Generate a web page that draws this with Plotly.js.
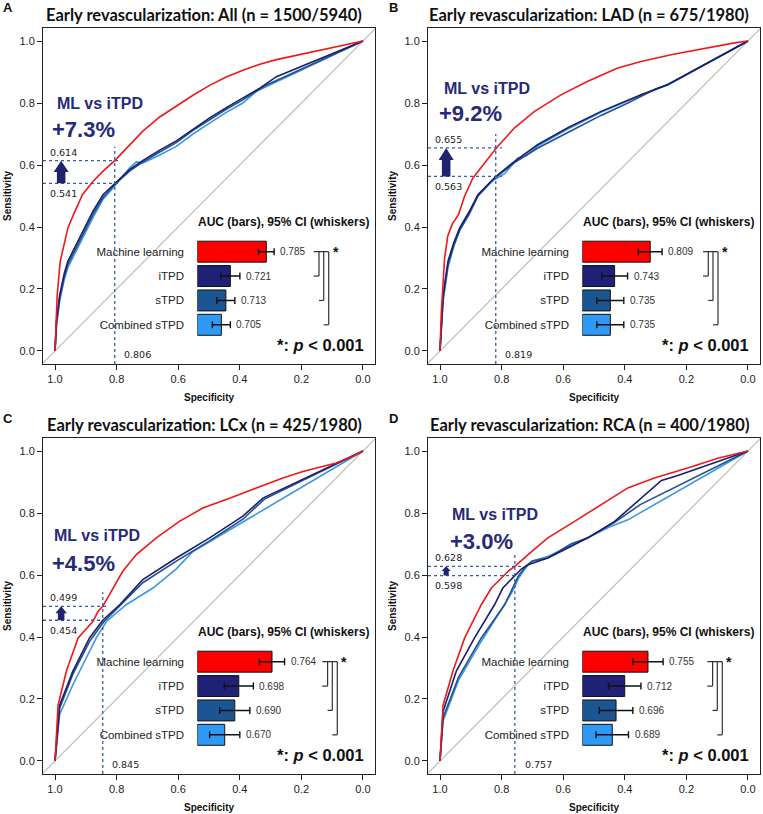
<!DOCTYPE html>
<html><head><meta charset="utf-8">
<script src="https://cdn.plot.ly/plotly-3.0.1.min.js"></script>
<style>html,body{margin:0;padding:0;background:#fff}#chart{width:763px;height:814px}</style>
</head><body><div id="chart"></div>
<script>
// ---------- DATA ----------
const models = ['Machine learning','iTPD','sTPD','Combined sTPD'];
const titles = ['Early revascularization: All (n = 1500/5940)','Early revascularization: LAD (n = 675/1980)',
                'Early revascularization: LCx (n = 425/1980)','Early revascularization: RCA (n = 400/1980)'];
const letters = ['A','B','C','D'];

// Panel A ROC (specificity, sensitivity)
const specA_ML=[1,.996,.993,.983,.97,.958,.94,.911,.877,.844,.806,.758,.714,.66,.606,.552,.498,.444,.39,.335,.281,.227,.173,.119,.065,0];
const sensA_ML=[0,.08,.18,.29,.35,.397,.44,.504,.547,.58,.614,.665,.71,.755,.79,.825,.857,.884,.906,.925,.94,.952,.963,.975,.986,1];
const specA_IT=[1,.995,.985,.97,.958,.93,.904,.877,.844,.806,.758,.714,.66,.606,.552,.498,.444,.39,.335,.281,0];
const sensA_IT=[0,.10,.18,.25,.29,.345,.397,.45,.504,.541,.585,.615,.648,.678,.716,.752,.785,.815,.848,.885,1];
const specA_ST=[1,.995,.985,.97,.958,.93,.904,.877,.844,.806,.758,.714,.66,.606,.552,.498,.444,.39,.32,0];
const sensA_ST=[0,.09,.17,.24,.28,.335,.39,.44,.495,.537,.58,.61,.642,.672,.712,.745,.78,.81,.855,1];
const specA_CO=[1,.995,.985,.97,.958,.93,.904,.877,.844,.806,.758,.736,.714,.66,.606,.552,.498,.444,.39,.346,0];
const sensA_CO=[0,.085,.16,.23,.27,.325,.38,.43,.49,.532,.59,.61,.607,.632,.66,.70,.735,.77,.80,.838,1];
// Panel B
const specB_ML=[1,.996,.99,.985,.975,.96,.94,.92,.893,.85,.817,.758,.693,.606,.52,.423,.347,.25,.142,.044,0];
const sensB_ML=[0,.12,.22,.30,.37,.41,.44,.50,.558,.612,.655,.72,.773,.827,.87,.913,.934,.956,.977,.994,1];
const specB_IT=[1,.99,.974,.955,.936,.905,.877,.828,.819,.758,.682,.585,.477,.347,.26,0];
const sensB_IT=[0,.18,.29,.35,.397,.45,.504,.555,.563,.612,.666,.72,.773,.827,.86,1];
const specB_ST=[1,.99,.974,.955,.936,.905,.877,.828,.758,.682,.585,.477,.39,.30,.26,0];
const sensB_ST=[0,.17,.28,.34,.39,.445,.50,.553,.608,.655,.705,.76,.80,.845,.86,1];
const specB_CO=[1,.99,.974,.955,.936,.905,.877,.828,.79,.747,.72,.682,.585,.477,.347,.26,0];
const sensB_CO=[0,.16,.27,.34,.39,.44,.50,.55,.572,.623,.63,.662,.716,.77,.826,.858,1];
// Panel C
const specC_ML=[1,.99,.963,.925,.877,.86,.845,.812,.78,.736,.671,.596,.52,.433,.346,.26,.195,.087,.03,0];
const sensC_ML=[0,.18,.29,.397,.45,.483,.499,.558,.612,.666,.72,.773,.816,.848,.881,.913,.934,.961,.985,1];
const specC_IT=[1,.985,.942,.888,.845,.79,.715,.606,.498,.39,.325,0];
const sensC_IT=[0,.18,.29,.397,.454,.504,.585,.655,.72,.79,.848,1];
const specC_ST=[1,.985,.942,.888,.845,.79,.715,.606,.498,.39,.32,0];
const sensC_ST=[0,.17,.28,.385,.445,.50,.575,.645,.71,.78,.845,1];
const specC_CO=[1,.985,.94,.90,.866,.833,.769,.682,.606,.552,0];
const sensC_CO=[0,.15,.25,.33,.397,.45,.504,.558,.62,.676,1];
// Panel D
const specD_ML=[1,.99,.958,.92,.866,.833,.779,.757,.714,.65,.563,.477,.39,.304,.196,.098,.03,0];
const sensD_ML=[0,.18,.29,.397,.504,.558,.612,.628,.666,.72,.773,.827,.881,.913,.945,.977,.994,1];
const specD_IT=[1,.99,.947,.888,.823,.796,.757,.735,.714,.65,.585,.52,.433,.39,.346,.281,.23,0];
const sensD_IT=[0,.16,.29,.397,.504,.558,.598,.62,.633,.655,.687,.72,.773,.81,.85,.905,.92,1];
const specD_ST=[1,.99,.94,.866,.79,.763,.745,.72,.70,.65,.575,.52,.433,.35,.24,0];
const sensD_ST=[0,.14,.27,.397,.504,.558,.598,.63,.645,.655,.70,.72,.77,.827,.881,1];
const specD_CO=[1,.99,.94,.87,.80,.763,.745,.72,.70,.65,.585,.52,.45,.39,0];
const sensD_CO=[0,.13,.26,.38,.49,.55,.59,.625,.645,.66,.69,.72,.755,.778,1];

// AUC and 95% CI half-widths
const aucA=[.785,.721,.713,.705], ciA=[.014,.017,.016,.016];
const aucB=[.809,.743,.735,.735], ciB=[.022,.024,.025,.025];
const aucC=[.764,.698,.690,.670], ciC=[.025,.029,.030,.030];
const aucD=[.755,.712,.696,.689], ciD=[.028,.030,.031,.030];

// operating point: specificity, ML sensitivity, iTPD sensitivity, gain label
const cutSpec=[.806,.819,.845,.757];
const cutML=[.614,.655,.499,.628];
const cutIT=[.541,.563,.454,.598];
const gains=['+7.3%','+9.2%','+4.5%','+3.0%'];

// ---------- STYLE / LAYOUT ----------
const W=763,H=814;
const px=x=>x/W, py=y=>1-y/H;
const rocs=[
 [[specA_ML,sensA_ML],[specA_IT,sensA_IT],[specA_ST,sensA_ST],[specA_CO,sensA_CO]],
 [[specB_ML,sensB_ML],[specB_IT,sensB_IT],[specB_ST,sensB_ST],[specB_CO,sensB_CO]],
 [[specC_ML,sensC_ML],[specC_IT,sensC_IT],[specC_ST,sensC_ST],[specC_CO,sensC_CO]],
 [[specD_ML,sensD_ML],[specD_IT,sensD_IT],[specD_ST,sensD_ST],[specD_CO,sensD_CO]]];
const aucs=[aucA,aucB,aucC,aucD], cis=[ciA,ciB,ciC,ciD];
const lineCols=['#f01818','#1c1f6e','#24508f','#3b98e0'];
const barCols=['#ff0000','#1f2177','#1b5592','#2f9af5'];
const navy='#262a78';
const boxes=[[43,28],[428,28],[43,438],[428,438]];
const BW=332,BH=336;
const XR=[1.039,-0.039], YR=[-0.042,1.042];
const insetScale=[562,539,503,541], insetBase=[.6622,.683,.6155,.6336];
const bracketL=[116.4,120.7,125,125];
const mlTxt=[[1.0,.797],[.994,.848],[1.01,.729],[.968,.794]];
const gainTxt=[[1.016,.713],[1.01,.765],[1.016,.638],[.973,.708]];
const SANS='Liberation Sans, Arial, sans-serif';
const DV='DejaVu Sans, sans-serif';

const traces=[], shapes=[], annotations=[];
const layout={width:W,height:H,margin:{l:0,r:0,t:0,b:0},paper_bgcolor:'#fff',plot_bgcolor:'rgba(0,0,0,0)',
  showlegend:false,shapes:shapes,annotations:annotations};

for(let p=0;p<4;p++){
  const [bl,bt]=boxes[p];
  const xa='x'+(p+1), ya='y'+(p+1);
  const xk='xaxis'+(p+1), yk='yaxis'+(p+1);
  layout[xk]={domain:[px(bl),px(bl+BW)],range:XR,anchor:ya,showline:true,mirror:true,linecolor:'#222',linewidth:1,
    ticks:'outside',ticklen:5,tickcolor:'#222',tickvals:[0,.2,.4,.6,.8,1],tickformat:'.1f',
    tickfont:{family:SANS,size:11,color:'#222'},showgrid:false,zeroline:false};
  layout[yk]={domain:[py(bt+BH),py(bt)],range:YR,anchor:xa,showline:true,mirror:true,linecolor:'#222',linewidth:1,
    ticks:'outside',ticklen:5,tickcolor:'#222',tickvals:[0,.2,.4,.6,.8,1],tickformat:'.1f',
    tickfont:{family:SANS,size:11,color:'#222'},showgrid:false,zeroline:false};
  // ROC curves (combined first, ML last)
  for(let m=3;m>=0;m--){
    traces.push({type:'scatter',mode:'lines',x:rocs[p][m][0],y:rocs[p][m][1],xaxis:xa,yaxis:ya,
      line:{color:lineCols[m],width:1.6},hoverinfo:'skip'});
  }
  // diagonal
  shapes.push({type:'line',xref:xa,yref:ya,x0:XR[0],y0:1-XR[0],x1:XR[1],y1:1-XR[1],layer:'below',line:{color:'#bdbdbd',width:1.2}});
  // dotted guides
  const v=cutSpec[p], hi=cutML[p], lo=cutIT[p];
  const dot={color:'#3a5aa8',width:1.3,dash:'dot'};
  shapes.push({type:'line',xref:xa,yref:ya,x0:v,x1:v,y0:YR[0],y1:hi+0.045,line:dot});
  shapes.push({type:'line',xref:xa,yref:ya,x0:XR[0],x1:v-0.02,y0:hi,y1:hi,line:dot});
  shapes.push({type:'line',xref:xa,yref:ya,x0:XR[0],x1:v-0.02,y0:lo,y1:lo,line:dot});
  // block arrow
  const spanPx=(hi-lo)*310;
  const hh=Math.min(7.5,2+spanPx*0.27)/308.3, sh=hh*0.57;
  const hl=Math.min(12,spanPx*0.5)/310, xc=0.98;
  shapes.push({type:'path',xref:xa,yref:ya,fillcolor:'#1f2370',line:{width:0},
    path:`M${xc-sh},${lo} L${xc-sh},${hi-hl} L${xc-hh},${hi-hl} L${xc},${hi} L${xc+hh},${hi-hl} L${xc+sh},${hi-hl} L${xc+sh},${lo} Z`});
  annotations.push({xref:xa,yref:ya,x:1.023,y:hi+0.027,text:hi.toFixed(3),showarrow:false,xanchor:'left',yanchor:'middle',font:{family:DV,size:9.5,color:'#222'}});
  annotations.push({xref:xa,yref:ya,x:1.023,y:lo-0.033,text:lo.toFixed(3),showarrow:false,xanchor:'left',yanchor:'middle',font:{family:DV,size:9.5,color:'#222'}});
  annotations.push({xref:xa,yref:ya,x:v-0.025,y:-0.01,text:v.toFixed(3),showarrow:false,xanchor:'left',yanchor:'middle',font:{family:DV,size:9.5,color:'#222'}});
  annotations.push({xref:xa,yref:ya,x:mlTxt[p][0],y:mlTxt[p][1],text:'<b>ML vs iTPD</b>',showarrow:false,xanchor:'left',yanchor:'middle',font:{family:SANS,size:16,color:navy}});
  annotations.push({xref:xa,yref:ya,x:gainTxt[p][0],y:gainTxt[p][1],text:'<b>'+gains[p]+'</b>',showarrow:false,xanchor:'left',yanchor:'middle',font:{family:SANS,size:22,color:navy}});
  annotations.push({xref:xa,yref:ya,x:-0.026,y:.415,text:'<b>AUC (bars), 95% CI (whiskers)</b>',showarrow:false,xanchor:'right',yanchor:'middle',font:{family:SANS,size:12,color:'#111'}});
  annotations.push({xref:xa,yref:ya,x:-0.01,y:.018,text:'<b>*: <i>p</i> &lt; 0.001</b>',showarrow:false,xanchor:'right',yanchor:'middle',font:{family:SANS,size:16.5,color:'#111'}});
  // titles, letters, axis titles
  annotations.push({xref:'paper',yref:'paper',x:px(bl+BW/2-5),y:py(bt-13),text:'<b>'+titles[p]+'</b>',showarrow:false,xanchor:'center',yanchor:'middle',font:{family:'Lato, Open Sans, sans-serif',size:16.5,color:'#111'}});
  annotations.push({xref:'paper',yref:'paper',x:px(bl-35),y:py(bt-20),text:'<b>'+letters[p]+'</b>',showarrow:false,xanchor:'center',yanchor:'middle',font:{family:SANS,size:13,color:'#111'}});
  annotations.push({xref:'paper',yref:'paper',x:px(bl-36),y:py(bt+BH/2),text:'<b>Sensitivity</b>',textangle:-90,showarrow:false,xanchor:'center',yanchor:'middle',font:{family:SANS,size:10,color:'#111'}});
  annotations.push({xref:'paper',yref:'paper',x:px(bl+BW/2),y:py(bt+BH+33),text:'<b>Specificity</b>',showarrow:false,xanchor:'center',yanchor:'middle',font:{family:SANS,size:10,color:'#111'}});

  // ---------- inset bar chart ----------
  const ix='x'+(p+5), iy='y'+(p+5);
  const s=insetScale[p], b=insetBase[p], barStart=bl+154.3;
  layout['xaxis'+(p+5)]={domain:[px(barStart),px(barStart+170)],range:[b,b+170/s],anchor:iy,visible:false,fixedrange:true};
  layout['yaxis'+(p+5)]={domain:[py(bt+309),py(bt+211.5)],anchor:ix,type:'category',categoryorder:'array',categoryarray:models,
    range:[3.5,-0.5],showline:false,showgrid:false,zeroline:false,ticks:'outside',ticklen:10,tickcolor:'rgba(0,0,0,0)',
    tickfont:{family:SANS,size:11.5,color:'#222'}};
  const auc=aucs[p], ci=cis[p];
  traces.push({type:'bar',orientation:'h',y:models,x:auc.map(a=>a-b),base:b,xaxis:ix,yaxis:iy,width:0.86,
    marker:{color:barCols,line:{color:'#111',width:1}},
    error_x:{type:'data',array:ci,color:'#111',thickness:1.4,width:3.5},hoverinfo:'skip'});
  for(let m=0;m<4;m++){
    annotations.push({xref:ix,yref:iy,x:auc[m]+ci[m],y:m,xshift:4,text:auc[m].toFixed(3),showarrow:false,xanchor:'left',yanchor:'middle',
      font:{family:SANS,size:10,color:'#333'}});
  }
  // significance brackets
  const L=bracketL[p];
  const bx=o=>px(barStart+o);
  const bl2={color:'#333',width:1.2};
  const vs=[L+5.3,L+10,L+15];
  shapes.push({type:'line',xref:'paper',yref:iy,x0:bx(L),x1:bx(vs[2]),y0:0,y1:0,line:bl2});
  for(let k=0;k<3;k++){
    const left=k===0?L:vs[k-1];
    shapes.push({type:'line',xref:'paper',yref:iy,x0:bx(vs[k]),x1:bx(vs[k]),y0:0,y1:k+1,line:bl2});
    shapes.push({type:'line',xref:'paper',yref:iy,x0:bx(left),x1:bx(vs[k]),y0:k+1,y1:k+1,line:bl2});
  }
  annotations.push({xref:'paper',yref:iy,x:bx(L+22),y:0,text:'<b>*</b>',showarrow:false,xanchor:'center',yanchor:'middle',font:{family:SANS,size:14,color:'#111'}});
}

Plotly.newPlot('chart',traces,layout,{staticPlot:true,displayModeBar:false});
</script></body></html>
